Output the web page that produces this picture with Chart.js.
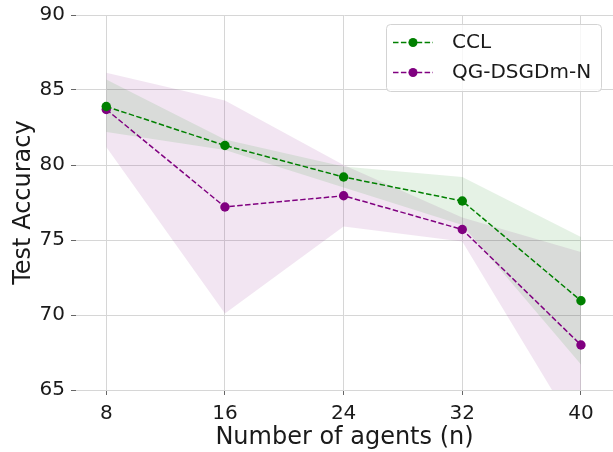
<!DOCTYPE html>
<html>
<head>
<meta charset="utf-8">
<script src="https://cdn.jsdelivr.net/npm/chart.js@4.4.0/dist/chart.umd.min.js"></script>
<style>
  html, body { margin: 0; padding: 0; background: #fff; }
  #wrap { width: 613px; height: 452px; position: relative; }
</style>
</head>
<body>
<div id="wrap"><canvas id="chart"></canvas></div>
<script>
// values
const agents = [8, 16, 24, 32, 40];
const cclMean = [83.9, 81.3, 79.2, 77.6, 70.95];
const cclUpper = [85.7, 81.7, 79.9, 79.2, 75.2];
const cclLower = [82.2, 81.0, 78.5, 76.0, 66.7];
const qgMean = [83.7, 77.2, 77.95, 75.7, 68.0];
const qgUpper = [86.15, 84.3, 80.0, 76.5, 74.2];
const qgLower = [81.2, 70.1, 75.9, 74.9, 61.8];
const yTicks = [65, 70, 75, 80, 85, 90];

const GREEN = '#008000';
const PURPLE = '#800080';
const FONT = '"DejaVu Sans", sans-serif';
const TEXT = '#1a1a1a';

const pts = (ys) => agents.map((x, i) => ({ x: x, y: ys[i] }));

const meanLine = (label, ys, color) => ({
    label: label,
    data: pts(ys),
    borderColor: color,
    backgroundColor: color,
    borderWidth: 1.5,
    borderDash: [5.5, 2.4],
    pointRadius: 4.7,
    pointBorderWidth: 0,
    pointBackgroundColor: color,
    fill: false,
    tension: 0
});

const band = (ys, fillColor, fill) => ({
    label: '',
    data: pts(ys),
    borderWidth: 0,
    borderColor: 'transparent',
    pointRadius: 0,
    backgroundColor: fillColor,
    fill: fill,
    tension: 0
});

// legend drawn by hand so it looks like the matplotlib one
const boxLegend = {
    id: 'boxLegend',
    afterDraw(chart) {
        const ctx = chart.ctx;
        const items = [['CCL', GREEN], ['QG-DSGDm-N', PURPLE]];
        const x0 = 386, y0 = 24, w = 215, h = 67, r = 4;
        ctx.save();
        ctx.beginPath();
        ctx.roundRect(x0 + 0.5, y0 + 0.5, w, h, r);
        ctx.fillStyle = 'rgba(255,255,255,0.8)';
        ctx.fill();
        ctx.strokeStyle = '#d3d3d3';
        ctx.lineWidth = 1;
        ctx.stroke();
        items.forEach(([label, color], i) => {
            const y = 42.5 + i * 30;
            ctx.beginPath();
            ctx.setLineDash([5.5, 2.4]);
            ctx.strokeStyle = color;
            ctx.lineWidth = 1.5;
            ctx.moveTo(393, y);
            ctx.lineTo(433, y);
            ctx.stroke();
            ctx.setLineDash([]);
            ctx.beginPath();
            ctx.arc(413, y, 4.5, 0, Math.PI * 2);
            ctx.fillStyle = color;
            ctx.fill();
            ctx.fillStyle = TEXT;
            ctx.font = '20px ' + FONT;
            ctx.textBaseline = 'middle';
            ctx.fillText(label, 452, y);
        });
        ctx.restore();
    }
};

new Chart(document.getElementById('chart'), {
    type: 'line',
    data: {
        datasets: [
            meanLine('CCL', cclMean, GREEN),
            meanLine('QG-DSGDm-N', qgMean, PURPLE),
            band(cclUpper, 'rgba(0,128,0,0.1)', '+1'),
            band(cclLower, 'rgba(0,0,0,0)', false),
            band(qgUpper, 'rgba(128,0,128,0.1)', '+1'),
            band(qgLower, 'rgba(0,0,0,0)', false)
        ]
    },
    options: {
        responsive: true,
        maintainAspectRatio: false,
        animation: false,
        layout: { autoPadding: false, padding: { top: 15, right: 0, left: 0, bottom: 0 } },
        plugins: {
            legend: { display: false },
            tooltip: { enabled: false }
        },
        scales: {
            x: {
                type: 'linear',
                min: 5.96,
                max: 42.16,
                afterBuildTicks: (scale) => {
                    scale.ticks = agents.map(v => ({ value: v }));
                },
                afterFit: (scale) => {
                    scale.height = 62;
                    scale.paddingLeft = 0;
                    scale.paddingRight = 0;
                },
                border: { display: false },
                grid: {
                    color: '#d6d6d6',
                    lineWidth: 1,
                    drawTicks: true,
                    tickLength: 5,
                    tickColor: '#666'
                },
                ticks: {
                    color: TEXT,
                    padding: 7,
                    maxRotation: 0,
                    font: { family: FONT, size: 20 }
                },
                title: {
                    display: true,
                    text: 'Number of agents (n)',
                    color: TEXT,
                    padding: { top: 0, bottom: 0 },
                    font: { family: FONT, size: 24 }
                }
            },
            y: {
                min: 65,
                max: 90,
                afterBuildTicks: (scale) => {
                    scale.ticks = yTicks.map(v => ({ value: v }));
                },
                afterFit: (scale) => {
                    scale.width = 76;
                    scale.paddingTop = 0;
                    scale.paddingBottom = 0;
                },
                border: { display: false },
                grid: {
                    color: '#d6d6d6',
                    lineWidth: 1,
                    drawTicks: true,
                    tickLength: 5,
                    tickColor: '#666'
                },
                ticks: {
                    color: TEXT,
                    padding: 6,
                    font: { family: FONT, size: 20 }
                },
                title: {
                    display: true,
                    text: 'Test Accuracy',
                    color: TEXT,
                    padding: { top: 9, bottom: 0 },
                    font: { family: FONT, size: 24 }
                }
            }
        }
    },
    plugins: [boxLegend]
});
</script>
</body>
</html>
